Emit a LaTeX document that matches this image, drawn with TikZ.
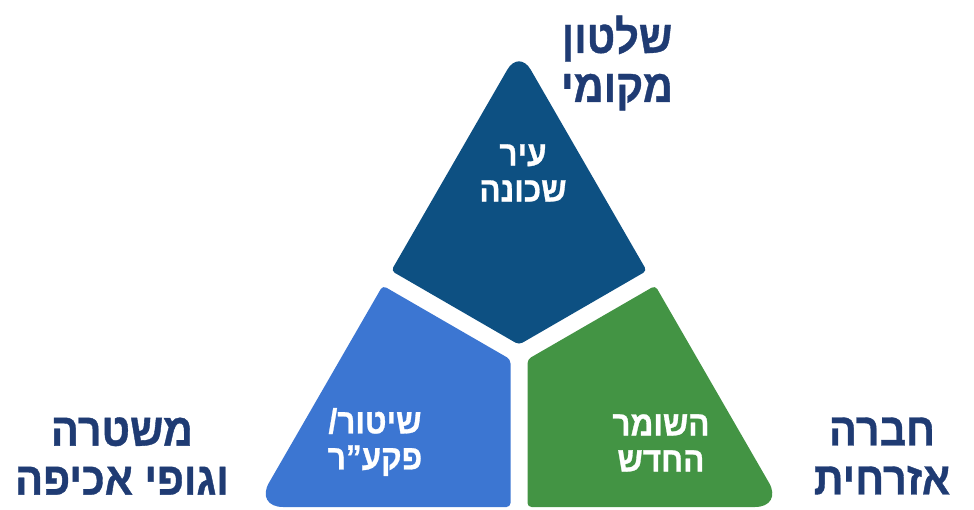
\documentclass[tikz,border=0pt]{standalone}
\usepackage{fontspec}
\usetikzlibrary{calc}
\TeXXeTstate=1
\newfontfamily\hebfont[Script=Hebrew, FakeStretch=0.9, BoldFeatures={FakeBold=0.8}]{Liberation Sans}
\definecolor{topblue}{RGB}{13,80,130}
\definecolor{leftblue}{RGB}{60,118,210}
\definecolor{rightgreen}{RGB}{67,148,68}
\definecolor{navy}{RGB}{31,59,115}
\newcommand{\heb}[1]{\beginR #1\endR}
\begin{document}
\begin{tikzpicture}[x=1pt,y=-1pt,
  outerlabel/.style={text=navy, align=center, inner sep=0pt,
    font=\hebfont\bfseries\fontsize{46}{49}\selectfont},
  innerlabel/.style={text=white, align=center, inner sep=0pt,
    font=\hebfont\bfseries\fontsize{35}{36}\selectfont}]
\useasboundingbox (0,0) rectangle (974,510);
% outer triangle corners and piece corners
\coordinate (A) at (519,49.4);
\coordinate (TL) at (391.25,270.8);
\coordinate (TB) at (519,344.7);
\coordinate (TR) at (646.75,270.8);
\coordinate (BTL) at (382.75,285.6);
\coordinate (BTR) at (510.5,359.4);
\coordinate (BBR) at (510.5,507);
\coordinate (BL) at (255,507);
\coordinate (GTL) at (527.5,359.4);
\coordinate (GTR) at (655.25,285.6);
\coordinate (BR) at (783,507);
\coordinate (GBL) at (527.5,507);
% top piece
\fill[topblue] ($(TL)!0.5!(A)$) [rounded corners=23.5pt] -- (A) -- ($(A)!0.5!(TR)$)
  [rounded corners=4pt] -- (TR) -- (TB) -- (TL) -- cycle;
% left piece
\fill[leftblue] ($(BL)!0.5!(BTL)$) [rounded corners=4pt] -- (BTL) -- (BTR) -- (BBR)
  -- ($(BBR)!0.5!(BL)$) [rounded corners=28pt] -- (BL) -- cycle;
% right piece
\fill[rightgreen] ($(GTR)!0.5!(BR)$) [rounded corners=28pt] -- (BR) -- ($(BR)!0.5!(GBL)$)
  [rounded corners=4pt] -- (GBL) -- (GTL) -- (GTR) -- cycle;
% inner labels
\node[innerlabel] (city) at (523,173) {\heb{עיר}\\\heb{שכונה}};
\node[innerlabel] (patrol) at (375,442) {\heb{שיטור/}\\\heb{פקע”ר}};
\node[innerlabel] (guard) at (661,443) {\heb{השומר}\\\heb{החדש}};
% outer labels
\node[outerlabel] (local) at (617,63) {\heb{שלטון}\\\heb{מקומי}};
\node[outerlabel] (police) at (122,456) {\heb{משטרה}\\\heb{וגופי אכיפה}};
\node[outerlabel] (civil) at (882,456) {\heb{חברה}\\\heb{אזרחית}};
\end{tikzpicture}
\end{document}
